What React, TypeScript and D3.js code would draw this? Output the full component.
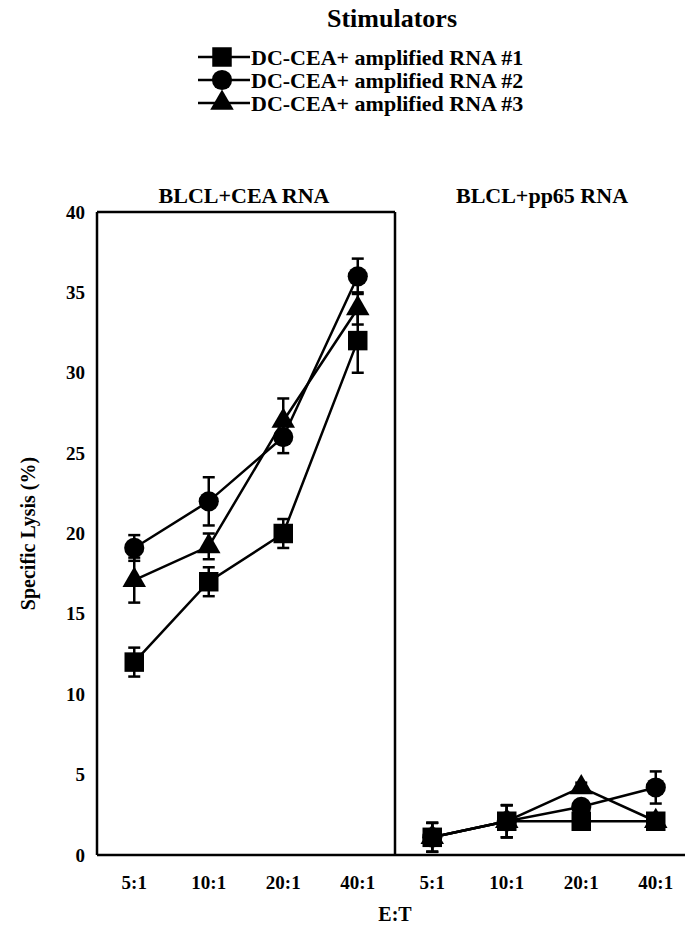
// Specific lysis chart: two panels (CEA vs pp65 targets) with three stimulator series
import { useRef, useEffect } from "react";
import * as d3 from "d3";

const ratios = ["5:1", "10:1", "20:1", "40:1"];
const yTicks = [0, 5, 10, 15, 20, 25, 30, 35, 40];
const panelTitles = ["BLCL+CEA RNA", "BLCL+pp65 RNA"];
const seriesNames = [
  "DC-CEA+ amplified RNA #1",
  "DC-CEA+ amplified RNA #2",
  "DC-CEA+ amplified RNA #3",
];
const seriesShapes = ["square", "circle", "triangle"];

// left panel (BLCL+CEA RNA)
const ceaValues = [
  [12, 17, 20, 32],
  [19.1, 22, 26, 36],
  [17.1, 19.2, 27, 34],
];
const ceaErrors = [
  [0.9, 0.9, 0.9, 2],
  [0.8, 1.5, 1, 1.1],
  [1.4, 0.8, 1.4, 1],
];

// right panel (BLCL+pp65 RNA)
const ppValues = [
  [1.1, 2.1, 2.1, 2.1],
  [1.1, 2.1, 3.0, 4.2],
  [1.1, 2.1, 4.2, 2.1],
];
const ppErrors = [
  [0.9, 1.0, 0.3, 0.3],
  [0.9, 1.0, 0.3, 1.0],
  [0.9, 1.0, 0.3, 0.3],
];

export default function App() {
  const ref = useRef<SVGSVGElement>(null);

  useEffect(() => {
    const svg = d3.select(ref.current);
    svg.selectAll("*").remove();

    const font = "'Liberation Serif', 'Times New Roman', serif";
    const top = 212;
    const bottom = 855;
    const left = 97;
    const mid = 395;
    const panelW = mid - left;

    const y = d3.scaleLinear().domain([0, 40]).range([bottom, top]);
    const xLeft = d3.scalePoint().domain(ratios).range([left, mid]).padding(0.5);
    const xRight = d3
      .scalePoint()
      .domain(ratios)
      .range([mid, mid + panelW])
      .padding(0.5);

    const symbolFor = (shape: string) => {
      if (shape === "square") return d3.symbol(d3.symbolSquare, 380)();
      if (shape === "circle") return d3.symbol(d3.symbolCircle, 320)();
      return d3.symbol(d3.symbolTriangle, 240)();
    };

    // bold serif text
    const label = (x: number, yy: number, str: string, size: number, anchor = "middle", rot = 0) =>
      svg
        .append("text")
        .attr("transform", `translate(${x},${yy}) rotate(${rot})`)
        .attr("text-anchor", anchor)
        .attr("dominant-baseline", "central")
        .style("font-family", font)
        .style("font-weight", "bold")
        .style("font-size", `${size}px`)
        .text(str);

    // Legend
    label(392, 18, "Stimulators", 26);

    seriesNames.forEach((name, i) => {
      const ly = 57 + i * 23;
      svg
        .append("line")
        .attr("x1", 198)
        .attr("x2", 250)
        .attr("y1", ly)
        .attr("y2", ly)
        .attr("stroke", "#000")
        .attr("stroke-width", 2.5);
      svg
        .append("path")
        .attr("d", symbolFor(seriesShapes[i]))
        .attr("transform", `translate(222,${ly})`)
        .attr("fill", "#000");
      label(251, ly, name, 22, "start");
    });

    // Frame
    const frame = svg.append("g").attr("stroke", "#000").attr("stroke-width", 2.5);
    frame.append("line").attr("x1", left).attr("x2", left).attr("y1", top).attr("y2", bottom);
    frame.append("line").attr("x1", left).attr("x2", mid).attr("y1", top).attr("y2", top);
    frame.append("line").attr("x1", mid).attr("x2", mid).attr("y1", top).attr("y2", bottom);
    frame.append("line").attr("x1", left).attr("x2", 685).attr("y1", bottom).attr("y2", bottom);

    // Y tick labels
    yTicks.forEach((t) => label(85, y(t), String(t), 19, "end"));

    // Axis titles
    label(28, (top + bottom) / 2, "Specific Lysis (%)", 20, "middle", -90);
    label(mid, 914, "E:T", 20);

    const panels = [
      { x: xLeft, values: ceaValues, errors: ceaErrors, title: panelTitles[0] },
      { x: xRight, values: ppValues, errors: ppErrors, title: panelTitles[1] },
    ];

    panels.forEach((p) => {
      const [r0, r1] = p.x.range();
      label((r0 + r1) / 2 - 2, 195, p.title, 22);

      ratios.forEach((r) => label(p.x(r)!, 882, r, 19));

      const line = d3
        .line<number>()
        .x((_, i) => p.x(ratios[i])!)
        .y((d) => y(d));

      // lines
      p.values.forEach((vals) => {
        svg
          .append("path")
          .attr("d", line(vals))
          .attr("fill", "none")
          .attr("stroke", "#000")
          .attr("stroke-width", 2.5);
      });

      // error bars
      p.values.forEach((vals, s) => {
        vals.forEach((v, i) => {
          const e = p.errors[s][i];
          const cx = p.x(ratios[i])!;
          const g = svg.append("g").attr("stroke", "#000").attr("stroke-width", 2.5);
          g.append("line").attr("x1", cx).attr("x2", cx).attr("y1", y(v - e)).attr("y2", y(v + e));
          [v - e, v + e].forEach((c) => {
            g.append("line")
              .attr("x1", cx - 6)
              .attr("x2", cx + 6)
              .attr("y1", y(c))
              .attr("y2", y(c));
          });
        });
      });

      // markers
      p.values.forEach((vals, s) => {
        vals.forEach((v, i) => {
          svg
            .append("path")
            .attr("d", symbolFor(seriesShapes[s]))
            .attr("transform", `translate(${p.x(ratios[i])},${y(v)})`)
            .attr("fill", "#000");
        });
      });
    });
  }, []);

  return (
    <>
      <style>{"body{margin:0}"}</style>
      <svg ref={ref} width={685} height={926} style={{ display: "block", background: "#fff" }}></svg>
    </>
  );
}
